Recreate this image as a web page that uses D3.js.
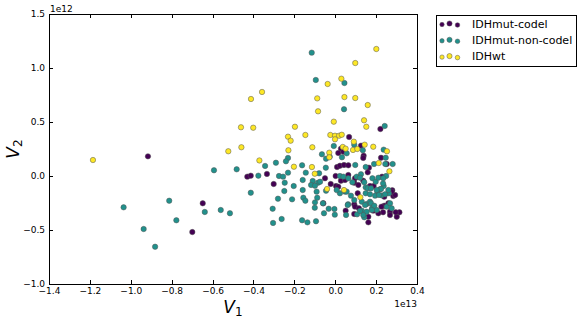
<!DOCTYPE html>
<html>
<head>
<meta charset="utf-8">
<script src="https://cdn.jsdelivr.net/npm/d3@7"></script>
<style>
  body { margin: 0; background: #fff; }
  text { font-family: "DejaVu Sans", sans-serif; }
</style>
</head>
<body>
<div class="chart"></div>
<script>
'use strict';

// groups, legend order
var groups = ['IDHmut-codel', 'IDHmut-non-codel', 'IDHwt'];
var groupColors = ['#440154', '#21918c', '#fde725'];

// tick values (V1 in 1e13, V2 in 1e12)
var xTicks = [-1.4, -1.2, -1.0, -0.8, -0.6, -0.4, -0.2, 0.0, 0.2, 0.4];
var yTicks = [-1.0, -0.5, 0.0, 0.5, 1.0, 1.5];

// [V1, V2] per sample
var codelPoints = [
  [-0.916, 0.182], [-0.699, -0.519], [-0.648, -0.253], [-0.430, -0.006], [-0.413, 0.003],
  [-0.334, 0.019], [-0.301, -0.074], [0.221, 0.435], [0.068, 0.361], [0.126, 0.281],
  [0.028, 0.253], [0.015, 0.213], [0.040, 0.225], [0.139, 0.188], [0.137, 0.167],
  [0.224, 0.169], [0.165, 0.077], [0.159, 0.034], [0.252, 0.111], [0.009, 0.083],
  [0.023, 0.095], [0.043, 0.102], [0.064, 0.099], [-0.022, -0.074], [0.004, -0.093],
  [0.028, -0.044], [0.093, -0.062], [0.137, -0.044], [0.093, -0.262], [0.093, -0.352],
  [0.162, -0.429], [0.186, -0.321], [0.234, -0.336], [0.268, -0.331], [0.301, -0.377],
  [0.314, -0.336], [0.296, -0.336], [0.260, -0.253], [0.279, -0.132], [0.284, -0.185],
  [0.229, -0.006], [0.188, -0.093], [0.170, -0.093], [0.240, -0.275], [0.226, -0.284],
  [0.002, 0.000], [0.064, 0.009], [0.051, -0.321], [-0.050, -0.021], [-0.058, -0.253],
  [0.015, -0.099], [0.048, -0.037], [0.097, -0.021], [0.113, -0.083], [0.110, -0.160],
  [0.097, -0.284], [0.116, -0.299], [0.211, -0.345], [0.293, -0.176], [0.240, -0.192],
  [0.276, -0.145], [0.268, -0.361], [0.162, -0.377]
];

var nonCodelPoints = [
  [-1.035, -0.290], [-0.812, -0.229], [-0.777, -0.410], [-0.937, -0.491], [-0.881, -0.655],
  [-0.115, 1.142], [-0.095, 0.889], [0.045, 0.861], [0.043, 0.618], [0.242, 0.463],
  [-0.007, 0.278], [0.093, 0.290], [0.135, 0.238], [0.237, 0.244], [-0.065, 0.201],
  [-0.027, 0.179], [-0.045, 0.160], [0.056, 0.210], [0.033, 0.173], [-0.231, 0.167],
  [0.247, 0.169],
  [-0.593, 0.053], [-0.482, 0.062], [-0.376, 0.003], [-0.343, 0.093], [-0.290, 0.123],
  [-0.241, 0.136], [-0.275, 0.000], [-0.231, 0.031], [-0.255, -0.006], [-0.162, 0.099],
  [-0.046, 0.077], [-0.144, 0.031], [-0.079, 0.025], [-0.247, -0.062], [-0.203, -0.093],
  [-0.159, -0.037], [-0.110, -0.046], [-0.084, -0.062], [-0.413, -0.155], [-0.638, -0.333],
  [-0.560, -0.315], [-0.515, -0.345], [-0.280, -0.210], [-0.211, -0.216], [-0.159, -0.130],
  [-0.156, -0.201], [-0.146, -0.229], [-0.099, -0.244], [-0.100, -0.294], [-0.060, -0.253],
  [-0.045, -0.136], [-0.091, -0.145], [-0.306, -0.303], [-0.304, -0.435], [-0.262, -0.398],
  [-0.162, -0.410], [-0.136, -0.429], [-0.094, -0.419], [-0.055, -0.345], [-0.032, -0.303],
  [-0.004, -0.306], [-0.002, -0.358], [0.053, -0.361], [0.063, -0.262], [0.023, -0.160],
  [-0.249, -0.139], [-0.118, -0.083], [-0.099, -0.090], [-0.074, -0.053], [0.007, -0.130],
  [0.048, -0.145], [-0.088, -0.201],
  [0.105, -0.006], [0.126, 0.016], [0.149, -0.105], [0.107, -0.355], [0.130, -0.321],
  [0.142, -0.382], [0.154, -0.259], [0.170, -0.238], [0.263, -0.160], [0.227, -0.179],
  [0.206, -0.160], [0.195, -0.182], [0.219, -0.123], [0.237, -0.093], [0.249, 0.000],
  [0.245, 0.111], [0.281, 0.111], [0.234, -0.068], [0.175, -0.253], [0.203, -0.315],
  [0.180, -0.299], [0.098, 0.102], [0.149, 0.083], [0.190, 0.111], [0.023, 0.000],
  [0.040, -0.006],
  [0.064, -0.021], [0.084, -0.058], [0.121, -0.016], [0.142, -0.058], [0.159, -0.114],
  [0.182, -0.021], [0.198, -0.053], [0.211, -0.016], [0.235, -0.021], [0.224, -0.120],
  [0.203, -0.130], [0.175, -0.114], [0.149, -0.160], [0.170, -0.169], [0.214, -0.176],
  [0.244, -0.169], [0.260, -0.130], [0.093, -0.222], [0.130, -0.238], [0.146, -0.269],
  [0.191, -0.275], [0.179, -0.315], [0.154, -0.331], [0.137, -0.361], [0.121, -0.324],
  [0.252, -0.284], [0.268, -0.253], [0.276, -0.299], [0.061, -0.269], [0.077, -0.182],
  [0.056, -0.145]
];

var wtPoints = [
  [-1.185, 0.148], [0.201, 1.176], [0.098, 1.046], [-0.037, 0.852], [0.030, 0.901],
  [-0.358, 0.778], [-0.412, 0.713], [-0.088, 0.719], [0.045, 0.731], [0.098, 0.722],
  [0.159, 0.657], [-0.084, 0.599], [-0.007, 0.503], [0.141, 0.516], [0.152, 0.456],
  [-0.461, 0.451], [-0.401, 0.447], [-0.197, 0.456], [-0.231, 0.364], [-0.218, 0.327],
  [-0.146, 0.380], [-0.024, 0.380], [-0.001, 0.373], [0.019, 0.373], [0.032, 0.382],
  [-0.001, 0.340], [0.037, 0.269], [0.051, 0.253], [0.091, 0.318], [0.144, 0.290],
  [0.087, 0.241], [0.108, 0.250], [0.186, 0.271], [0.253, 0.229], [-0.112, 0.266],
  [-0.229, 0.238], [-0.459, 0.266], [-0.523, 0.229], [-0.029, 0.216], [-0.029, 0.173],
  [-0.371, 0.144], [-0.202, 0.086], [-0.114, 0.083], [-0.100, 0.021], [-0.040, -0.120],
  [0.043, -0.130], [0.123, -0.197], [0.213, 0.120], [0.265, 0.044]
];

function run() {
  var owidth = 581, oheight = 321;
  var margin = {top: 14, right: 164, bottom: 37, left: 49};
  var cwidth = owidth - margin.left - margin.right;   // 368
  var cheight = oheight - margin.top - margin.bottom; // 270

  var x = d3.scaleLinear().domain([-1.4, 0.4]).range([0, cwidth]);
  var y = d3.scaleLinear().domain([-1.0, 1.5]).range([cheight, 0]);
  var color = d3.scaleOrdinal().domain(groups).range(groupColors);
  var fmt = d3.format('.1f');

  var svg = d3.select('.chart').append('svg')
    .attr('width', owidth)
    .attr('height', oheight);

  var chart = svg.append('g')
    .attr('transform', 'translate(' + margin.left + ',' + margin.top + ')');

  // points, one layer per group
  var sets = [codelPoints, nonCodelPoints, wtPoints];
  sets.forEach(function(pts, i) {
    chart.append('g').selectAll('circle')
      .data(pts)
      .enter().append('circle')
      .attr('cx', function(d) { return x(d[0]); })
      .attr('cy', function(d) { return y(d[1]); })
      .attr('r', 2.7)
      .attr('fill', color(groups[i]))
      .attr('stroke', '#555')
      .attr('stroke-width', 0.5);
  });

  // axes, ticks pointing inward on all four sides
  var xAxis = d3.axisBottom(x).tickValues(xTicks).tickFormat(fmt)
    .tickSizeInner(-4).tickSizeOuter(0).tickPadding(4);
  var yAxis = d3.axisLeft(y).tickValues(yTicks).tickFormat(fmt)
    .tickSizeInner(-4).tickSizeOuter(0).tickPadding(4);
  var xTop = d3.axisTop(x).tickValues(xTicks).tickFormat('')
    .tickSizeInner(-4).tickSizeOuter(0);
  var yRight = d3.axisRight(y).tickValues(yTicks).tickFormat('')
    .tickSizeInner(-4).tickSizeOuter(0);

  var gx = chart.append('g').attr('transform', 'translate(0,' + cheight + ')').call(xAxis);
  var gy = chart.append('g').call(yAxis);
  var gt = chart.append('g').call(xTop);
  var gr = chart.append('g').attr('transform', 'translate(' + cwidth + ',0)').call(yRight);

  [gx, gy, gt, gr].forEach(function(g) {
    g.select('.domain').remove();
    g.selectAll('line').attr('stroke', '#000').attr('shape-rendering', 'crispEdges');
    g.selectAll('text').attr('font-size', 9).attr('fill', '#000')
      .attr('font-family', '"DejaVu Sans", sans-serif');
  });

  chart.append('rect')
    .attr('x', 0).attr('y', 0)
    .attr('width', cwidth).attr('height', cheight)
    .attr('fill', 'none').attr('stroke', '#000')
    .attr('shape-rendering', 'crispEdges');

  // offset labels
  chart.append('text').attr('x', 1).attr('y', -2)
    .attr('font-size', 9).text('1e12');
  chart.append('text').attr('x', cwidth).attr('y', cheight + 23)
    .attr('text-anchor', 'end').attr('font-size', 9).text('1e13');

  // axis titles
  var xl = svg.append('text')
    .attr('x', margin.left + cwidth / 2)
    .attr('y', 313)
    .attr('text-anchor', 'middle')
    .attr('font-family', '"Liberation Serif", serif')
    .attr('font-style', 'italic')
    .attr('font-size', 17);
  xl.append('tspan').text('V');
  xl.append('tspan').attr('font-size', 12).attr('dy', 3).attr('font-style', 'normal').text('1');

  var yl = svg.append('text')
    .attr('transform', 'translate(19,' + (margin.top + cheight / 2) + ') rotate(-90)')
    .attr('text-anchor', 'middle')
    .attr('font-family', '"Liberation Serif", serif')
    .attr('font-style', 'italic')
    .attr('font-size', 17);
  yl.append('tspan').text('V');
  yl.append('tspan').attr('font-size', 12).attr('dy', 3).attr('font-style', 'normal').text('2');

  // legend
  var legend = svg.append('g').attr('transform', 'translate(436,15)');
  legend.append('rect')
    .attr('x', 0).attr('y', 0).attr('width', 140).attr('height', 51)
    .attr('fill', '#fff').attr('stroke', '#000')
    .attr('shape-rendering', 'crispEdges');

  var rows = legend.selectAll('g.row')
    .data(groups)
    .enter().append('g')
    .attr('class', 'row')
    .attr('transform', function(d, i) { return 'translate(0,' + (9 + i * 16.3) + ')'; });

  var dotX = [6, 13.5, 21.5];
  var dotDy = [0.5, -0.5, 1];
  var dotR = [2.2, 2.6, 2.3];
  rows.each(function(g) {
    var row = d3.select(this);
    dotX.forEach(function(dx, k) {
      row.append('circle')
        .attr('cx', dx).attr('cy', dotDy[k]).attr('r', dotR[k])
        .attr('fill', color(g)).attr('stroke', '#555').attr('stroke-width', 0.5);
    });
    row.append('text')
      .attr('x', 36).attr('y', 0).attr('dy', '0.35em')
      .attr('font-size', 11)
      .text(g);
  });
}

document.addEventListener('DOMContentLoaded', run);
</script>
</body>
</html>
